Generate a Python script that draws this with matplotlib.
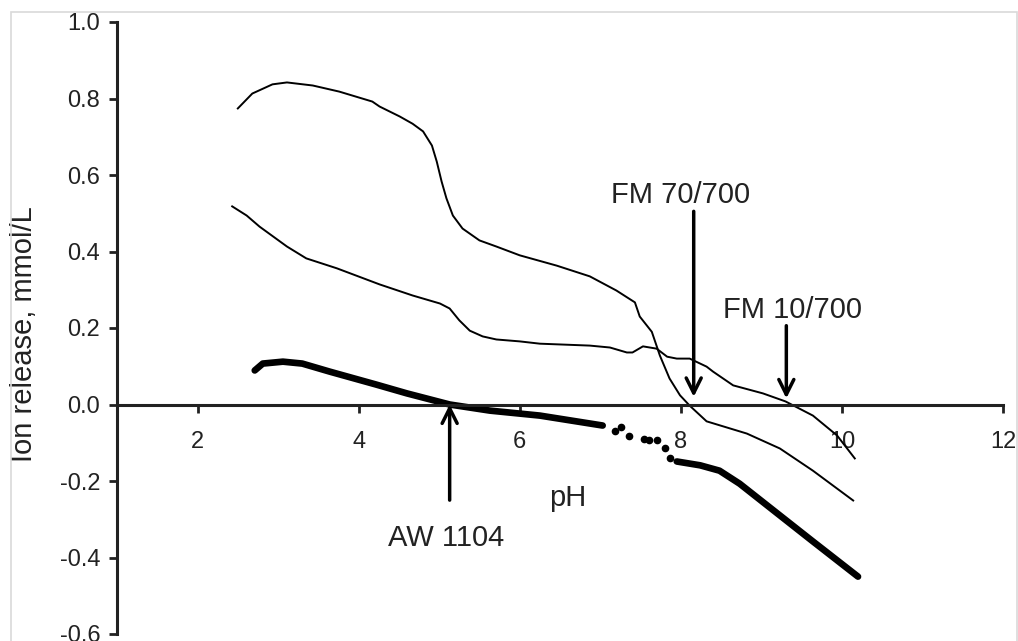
import matplotlib
matplotlib.use("Agg")
import matplotlib.pyplot as plt
from matplotlib.patches import Rectangle

plt.rcParams["font.family"] = ["Liberation Sans", "DejaVu Sans"]
plt.rcParams["axes.unicode_minus"] = False

# FM 70/700 (upper thin curve)
fm70_ph = [2.50, 2.68, 2.93, 3.11, 3.43, 3.76, 4.17, 4.26, 4.51, 4.67, 4.80, 4.91,
           4.97, 5.03, 5.09, 5.17, 5.29, 5.50, 5.71, 6.00, 6.46, 6.87, 7.20, 7.43,
           7.49, 7.64, 7.74, 7.86, 7.99, 8.11, 8.32, 8.82, 9.23, 9.64, 10.14]
fm70_ion = [0.774, 0.813, 0.837, 0.842, 0.834, 0.818, 0.792, 0.779, 0.753, 0.734,
            0.714, 0.677, 0.635, 0.583, 0.539, 0.494, 0.460, 0.429, 0.413, 0.390,
            0.363, 0.335, 0.298, 0.267, 0.230, 0.190, 0.128, 0.068, 0.024, -0.003,
            -0.044, -0.076, -0.115, -0.173, -0.251]

# FM 10/700 (middle thin curve)
fm10_ph = [2.43, 2.61, 2.77, 3.11, 3.35, 3.73, 4.26, 4.67, 5.01, 5.13, 5.25, 5.38,
           5.54, 5.71, 6.00, 6.25, 6.87, 7.12, 7.33, 7.40, 7.53, 7.70, 7.83, 7.95,
           8.11, 8.32, 8.40, 8.65, 9.02, 9.30, 9.64, 9.94, 10.16]
fm10_ion = [0.518, 0.494, 0.465, 0.413, 0.382, 0.356, 0.314, 0.285, 0.264, 0.251,
            0.220, 0.193, 0.178, 0.170, 0.165, 0.159, 0.154, 0.149, 0.136, 0.136,
            0.152, 0.146, 0.125, 0.120, 0.120, 0.099, 0.086, 0.050, 0.029, 0.008,
            -0.029, -0.081, -0.141]

# AW 1104 (thick curve), dense parts and the sparse dotted stretch
aw_ph_low = [2.71, 2.81, 3.06, 3.30, 3.64, 4.22, 4.60, 5.13, 5.63, 6.25, 7.03]
aw_ion_low = [0.089, 0.107, 0.112, 0.107, 0.086, 0.052, 0.029, 0.0, -0.016, -0.029, -0.055]
aw_ph_dots = [7.18, 7.26, 7.36, 7.54, 7.60, 7.70, 7.80, 7.86]
aw_ion_dots = [-0.068, -0.060, -0.083, -0.089, -0.094, -0.094, -0.115, -0.140]
aw_ph_high = [7.95, 8.24, 8.48, 8.73, 9.23, 9.64, 10.20]
aw_ion_high = [-0.149, -0.159, -0.173, -0.207, -0.290, -0.358, -0.450]

x_ticks = [2, 4, 6, 8, 10, 12]
y_ticks = [-0.6, -0.4, -0.2, 0.0, 0.2, 0.4, 0.6, 0.8, 1.0]

# arrows: (label, pH, tail, head, text x, text y)
arrows = [
    ("AW 1104", 5.13, -0.25, 0.0, 5.09, -0.35),
    ("FM 70/700", 8.16, 0.505, 0.02, 8.00, 0.549),
    ("FM 10/700", 9.31, 0.206, 0.016, 9.39, 0.248),
]

fig = plt.figure(figsize=(10.18, 6.41), dpi=100)
fig.patches.append(Rectangle((11 / 1018, -0.05), 1006 / 1018, 1.05 - 12 / 641,
                             transform=fig.transFigure, fill=False,
                             edgecolor="#d9d9d9", linewidth=1.2))
ax = fig.add_axes([117 / 1018, 7 / 641, 886 / 1018, 612 / 641])

ax.plot(fm70_ph, fm70_ion, color="black", lw=1.4)
ax.plot(fm10_ph, fm10_ion, color="black", lw=1.4)
ax.plot(aw_ph_low, aw_ion_low, color="black", lw=4.8, solid_capstyle="round")
ax.plot(aw_ph_dots, aw_ion_dots, "o", color="black", ms=4.5)
ax.plot(aw_ph_high, aw_ion_high, color="black", lw=4.8, solid_capstyle="round")

for label, ph, tail, head, tx, ty in arrows:
    ax.annotate("", xy=(ph, head), xytext=(ph, tail),
                arrowprops=dict(arrowstyle="->,head_length=0.6,head_width=0.3",
                                lw=2.5, color="black", mutation_scale=18,
                                shrinkA=0, shrinkB=0))
    ax.text(tx, ty, label, ha="center", va="center", fontsize=21, color="#222222")

ax.set_xlim(1, 12)
ax.set_ylim(-0.6, 1.0)
ax.set_xticks(x_ticks)
ax.set_yticks(y_ticks)
ax.set_yticklabels([f"{v:.1f}" for v in y_ticks])

ax.spines["top"].set_visible(False)
ax.spines["right"].set_visible(False)
ax.spines["bottom"].set_position(("data", 0))
for s in ("left", "bottom"):
    ax.spines[s].set_linewidth(2.2)
    ax.spines[s].set_color("#222222")
ax.tick_params(axis="both", direction="out", length=6, width=2, color="#222222",
               labelsize=17, labelcolor="#222222")
ax.tick_params(axis="x", pad=13)
ax.tick_params(axis="y", pad=6)

ax.text(6.6, -0.245, "pH", ha="center", va="center", fontsize=21, color="#222222")
ax.set_ylabel("Ion release, mmol/L", fontsize=21, color="#222222", va="center")
ax.yaxis.set_label_coords(-0.105, 0.49)
ax.patch.set_visible(False)

fig.savefig("out.png", dpi=100)
